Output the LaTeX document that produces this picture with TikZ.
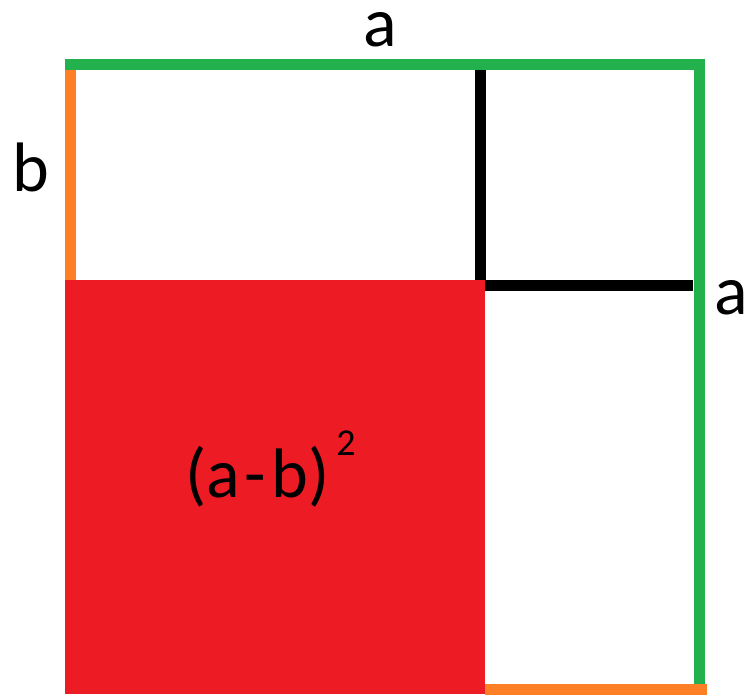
\documentclass[tikz,border=0pt]{standalone}
\usepackage{fontspec}
\setmainfont{Carlito}
\definecolor{hijau}{RGB}{34,177,76}
\definecolor{oranye}{RGB}{255,127,39}
\definecolor{merah}{RGB}{237,28,36}
\begin{document}
\begin{tikzpicture}[x=1pt,y=-1pt,
      garis/.style={line width=11pt},
      sisi/.style={garis,hijau},
      potong/.style={garis,oranye},
      batas/.style={garis,black},
      label/.style={inner sep=0pt,font=\fontsize{70}{74}\selectfont}]
    \useasboundingbox (0,0) rectangle (749,694);

    % --- Titik sudut persegi besar dan potongannya ---------------------------
    \coordinate (kiriatas) at (65,64);
    \coordinate (kananatas) at (699,64);
    \coordinate (kananbawah) at (699,688);
    \coordinate (kiritengah) at (70,280);

    % --- Persegi merah (a-b)^2 ------------------------------------------------
    \fill[merah] (65,280) rectangle (485,694);

    % --- Sisi b (oranye) lalu sisi a (hijau) ----------------------------------
    \draw[potong] (70,66) -- (kiritengah);
    \draw[sisi] (kiriatas) -- (kananatas) -- (kananbawah);
    \draw[potong] (485,689) -- (707,689);

    % --- Garis hitam pembatas ------------------------------------------------
    \draw[batas] (480,70) -- (480,280);
    \draw[batas] (485,285) -- (693,285);

    % --- Label ---------------------------------------------------------------
    \node[label] (sisiatas) at (380,30) {a};
    \node[label] (sisikiri) at (31,167) {b};
    \node[label] (sisikanan) at (731,298) {a};
    \node[label,anchor=base west] (luas) at (185,497)
      {(a\kern5pt-\kern5pt b)\kern7pt\raisebox{42pt}{\fontsize{38}{40}\selectfont 2}};
  \end{tikzpicture}
\end{document}
